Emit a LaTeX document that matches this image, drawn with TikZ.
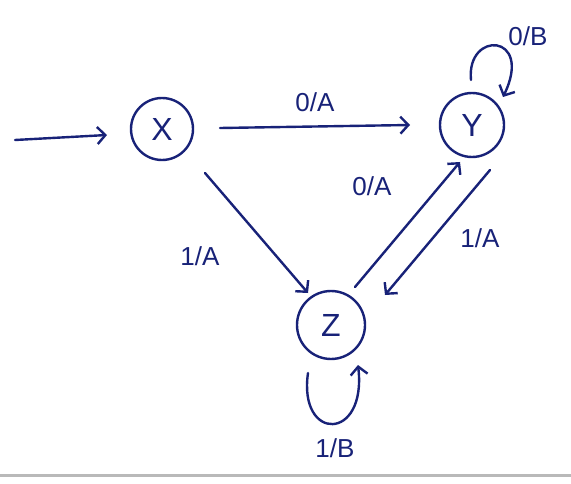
\documentclass[tikz,border=0pt]{standalone}
\usepackage{fontspec}
\setmainfont{Liberation Sans}
\usetikzlibrary{arrows.meta,calc}
\definecolor{ink}{RGB}{24,34,120}
\begin{document}
\begin{tikzpicture}[x=1pt,y=-1pt,
  state/.style={circle,draw=ink,line width=2.4pt,inner sep=0pt,text=ink,
    font=\fontsize{32}{32}\selectfont},
  edge/.style={draw=ink,line width=2.4pt,line cap=round,
    -{Straight Barb[length=8pt,width=17pt,line width=2.4pt]}},
  lbl/.style={text=ink,font=\fontsize{26}{26}\selectfont}]
\useasboundingbox (0,0) rectangle (571,484);
\fill[white] (0,0) rectangle (571,484);
% paper edge at the bottom
\draw[gray!55,line width=3pt] (0,475) -- (571,475);

% states
\node[state,minimum size=62pt] (X) at (162,129) {X};
\node[state,minimum size=64pt] (Y) at (472,125) {Y};
\node[state,minimum size=68pt] (Z) at (331,325) {Z};

% initial arrow
\coordinate (init) at (15,140);
\draw[edge] (init) -- ($(X)+(-55,6)$);

% transitions
\draw[edge] ($(X)+(58,-1)$) -- ($(Y)+(-62,0)$);
\draw[edge] ($(X)+(43,44)$) -- ($(Z)+(-23,-32)$);
\draw[edge] ($(Z)+(24,-38)$) -- ($(Y)+(-12,37)$);
\draw[edge] ($(Y)+(18,45)$) -- ($(Z)+(54,-30)$);

% self loops
\draw[edge] ($(Y)+(-1,-45)$) .. controls ($(Y)+(-6,-95)$) and ($(Y)+(62,-92)$) .. ($(Y)+(31,-28)$);
\draw[edge] ($(Z)+(-23,48)$) .. controls ($(Z)+(-33,117)$) and ($(Z)+(36,117)$) .. ($(Z)+(27,40)$);

% transition labels
\node[lbl] (lxy) at (315,102) {0/A};
\node[lbl] (lyy) at (528,36) {0/B};
\node[lbl] (lxz) at (200,256) {1/A};
\node[lbl] (lzy) at (372,186) {0/A};
\node[lbl] (lyz) at (480,238) {1/A};
\node[lbl] (lzz) at (335,448) {1/B};
\end{tikzpicture}
\end{document}
